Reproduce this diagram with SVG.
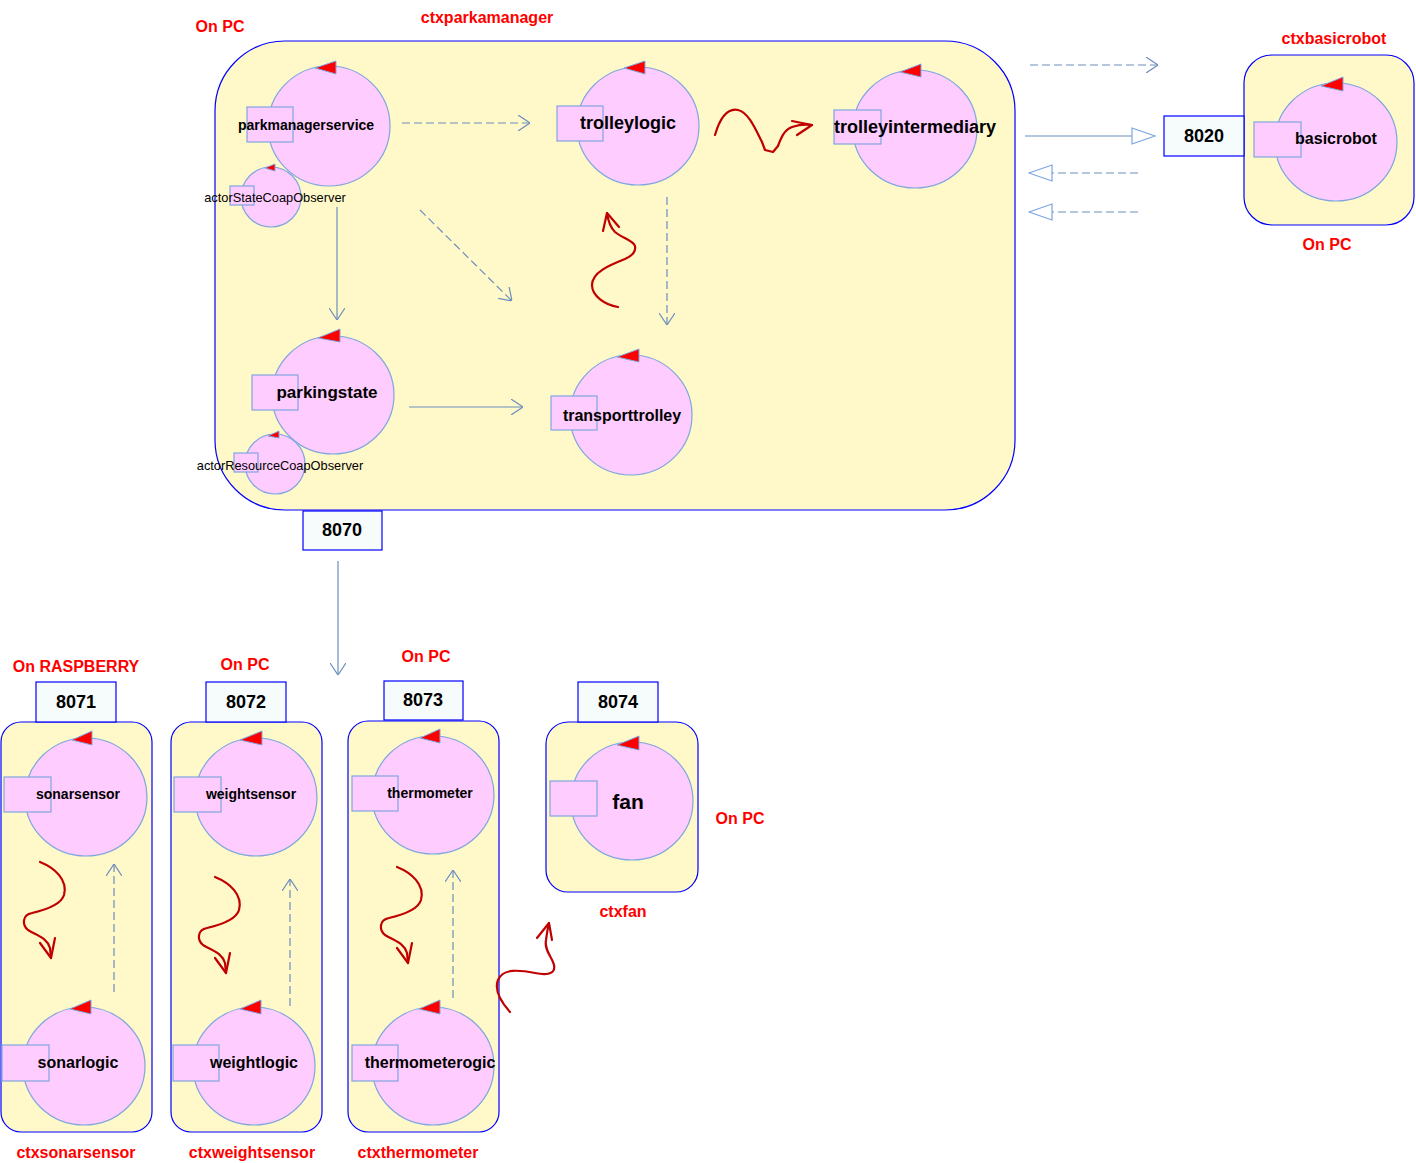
<svg xmlns="http://www.w3.org/2000/svg" width="1416" height="1163" viewBox="0 0 1416 1163">
<defs>
<style>
.ctx{fill:#FFF8C8;stroke:#0000FF;stroke-width:1.2}
.port{fill:#F6FBFB;stroke:#0000FF;stroke-width:1.2}
.act{fill:#FFCCFF;stroke:#7EA6E0;stroke-width:1.2}
.tri{fill:#FF0000;stroke:#7EA6E0;stroke-width:1}
.t{font-family:"Liberation Sans",Arial,sans-serif;font-weight:bold;fill:#000;text-anchor:middle}
.ts{font-family:"Liberation Sans",Arial,sans-serif;font-size:12.8px;fill:#000;text-anchor:middle}
.red{font-family:"Liberation Sans",Arial,sans-serif;font-weight:bold;font-size:16px;fill:#FF0000;text-anchor:middle}
.port-t{font-family:"Liberation Sans",Arial,sans-serif;font-weight:bold;font-size:18px;fill:#000;text-anchor:middle}
.ln{fill:none;stroke:#6C8EBF;stroke-width:1.2}
.dash{stroke-dasharray:8,4}
.sq{fill:none;stroke:#C00000;stroke-width:2.2;stroke-linecap:round;stroke-linejoin:round}
</style>
<marker id="open" viewBox="0 0 12 16" refX="12" refY="8" markerWidth="12" markerHeight="16" markerUnits="userSpaceOnUse" orient="auto">
<path d="M0,0 L12,8 L0,16" fill="none" stroke="#6C8EBF" stroke-width="1.2"/>
</marker>
<marker id="hollow" viewBox="0 0 25 18" refX="24" refY="9" markerWidth="25" markerHeight="18" markerUnits="userSpaceOnUse" orient="auto">
<path d="M1,1 L24,9 L1,17 Z" fill="#FFFFFF" stroke="#7EA6E0" stroke-width="1.2"/>
</marker>
</defs>
<rect width="1416" height="1163" fill="#FFFFFF"/>

<!-- contexts -->
<g id="ctxparkamanager">
<rect class="ctx" x="215" y="41" width="800" height="469" rx="70" ry="70"/>
<text class="red" x="220" y="32">On PC</text>
<text class="red" x="487" y="23">ctxparkamanager</text>
</g>
<g id="ctxbasicrobot">
<rect class="ctx" x="1244" y="55" width="170" height="170" rx="28" ry="28"/>
<text class="red" x="1334" y="44">ctxbasicrobot</text>
<text class="red" x="1327" y="250">On PC</text>
</g>
<g id="ctxsonarsensor">
<rect class="ctx" x="1" y="722" width="151" height="410" rx="20" ry="20"/>
<text class="red" x="76" y="672">On RASPBERRY</text>
<text class="red" x="76" y="1158">ctxsonarsensor</text>
</g>
<g id="ctxweightsensor">
<rect class="ctx" x="171" y="722" width="151" height="410" rx="20" ry="20"/>
<text class="red" x="245" y="670">On PC</text>
<text class="red" x="252" y="1158">ctxweightsensor</text>
</g>
<g id="ctxthermometer">
<rect class="ctx" x="348" y="721" width="151" height="411" rx="20" ry="20"/>
<text class="red" x="426" y="662">On PC</text>
<text class="red" x="418" y="1158">ctxthermometer</text>
</g>
<g id="ctxfan">
<rect class="ctx" x="546" y="722" width="152" height="170" rx="22" ry="22"/>
<text class="red" x="740" y="824">On PC</text>
<text class="red" x="623" y="917">ctxfan</text>
</g>

<!-- ports -->
<g id="port8070"><rect class="port" x="303" y="511" width="79" height="39"/><text class="port-t" x="342" y="536">8070</text></g>
<g id="port8020"><rect class="port" x="1164" y="116" width="80" height="40"/><text class="port-t" x="1204" y="142">8020</text></g>
<g id="port8071"><rect class="port" x="36" y="682" width="80" height="40"/><text class="port-t" x="76" y="708">8071</text></g>
<g id="port8072"><rect class="port" x="206" y="682" width="80" height="40"/><text class="port-t" x="246" y="708">8072</text></g>
<g id="port8073"><rect class="port" x="384" y="681" width="79" height="39"/><text class="port-t" x="423" y="706">8073</text></g>
<g id="port8074"><rect class="port" x="578" y="682" width="80" height="40"/><text class="port-t" x="618" y="708">8074</text></g>

<!-- actors -->
<g id="parkmanagerservice">
<ellipse class="act" cx="329" cy="126" rx="61" ry="60"/>
<polygon class="tri" points="315,68 336,61 336,74"/>
<rect class="act" x="247" y="107" width="46" height="35"/>
<text class="t" x="306" y="130" font-size="14">parkmanagerservice</text>
</g>
<g id="actorStateCoapObserver">
<ellipse class="act" cx="271" cy="197" rx="30" ry="30"/>
<polygon class="tri" points="265,168 275,164 275,171"/>
<rect class="act" x="230" y="186" width="24" height="19"/>
<text class="ts" x="275" y="202">actorStateCoapObserver</text>
</g>
<g id="trolleylogic">
<ellipse class="act" cx="638" cy="126" rx="61" ry="59"/>
<polygon class="tri" points="624,68 645,61 645,74"/>
<rect class="act" x="557" y="106" width="46" height="35"/>
<text class="t" x="628" y="129" font-size="18">trolleylogic</text>
</g>
<g id="trolleyintermediary">
<ellipse class="act" cx="915" cy="129" rx="62" ry="59"/>
<polygon class="tri" points="900,72 921,64 921,77"/>
<rect class="act" x="834" y="110" width="47" height="34"/>
<text class="t" x="915" y="133" font-size="18">trolleyintermediary</text>
</g>
<g id="parkingstate">
<ellipse class="act" cx="333" cy="395" rx="61" ry="59"/>
<polygon class="tri" points="318,338 340,329 340,342"/>
<rect class="act" x="252" y="375" width="46" height="35"/>
<text class="t" x="327" y="398" font-size="17">parkingstate</text>
</g>
<g id="actorResourceCoapObserver">
<ellipse class="act" cx="275" cy="464" rx="30" ry="30"/>
<polygon class="tri" points="268,436 279,431 279,438"/>
<rect class="act" x="234" y="453" width="24" height="19"/>
<text class="ts" x="280" y="470">actorResourceCoapObserver</text>
</g>
<g id="transporttrolley">
<ellipse class="act" cx="631" cy="415" rx="61" ry="60"/>
<polygon class="tri" points="617,357 639,349 639,362"/>
<rect class="act" x="551" y="396" width="46" height="34"/>
<text class="t" x="622" y="421" font-size="16">transporttrolley</text>
</g>
<g id="basicrobot">
<ellipse class="act" cx="1336" cy="142" rx="61" ry="59"/>
<polygon class="tri" points="1321,86 1343,77 1343,91"/>
<rect class="act" x="1254" y="122" width="47" height="35"/>
<text class="t" x="1336" y="144" font-size="16">basicrobot</text>
</g>
<g id="sonarsensor">
<ellipse class="act" cx="86" cy="797" rx="61" ry="59"/>
<polygon class="tri" points="72,740 92,731 92,745"/>
<rect class="act" x="4" y="777" width="47" height="35"/>
<text class="t" x="78" y="799" font-size="14">sonarsensor</text>
</g>
<g id="sonarlogic">
<ellipse class="act" cx="84" cy="1066" rx="61" ry="59"/>
<polygon class="tri" points="70,1009 91,1000 91,1014"/>
<rect class="act" x="2" y="1045" width="47" height="36"/>
<text class="t" x="78" y="1068" font-size="16">sonarlogic</text>
</g>
<g id="weightsensor">
<ellipse class="act" cx="256" cy="797" rx="61" ry="59"/>
<polygon class="tri" points="240,740 262,731 262,745"/>
<rect class="act" x="174" y="777" width="47" height="35"/>
<text class="t" x="251" y="799" font-size="14">weightsensor</text>
</g>
<g id="weightlogic">
<ellipse class="act" cx="254" cy="1066" rx="61" ry="59"/>
<polygon class="tri" points="240,1009 261,1000 261,1014"/>
<rect class="act" x="173" y="1045" width="46" height="36"/>
<text class="t" x="254" y="1068" font-size="16">weightlogic</text>
</g>
<g id="thermometer">
<ellipse class="act" cx="433" cy="795" rx="61" ry="59"/>
<polygon class="tri" points="420,738 440,729 440,743"/>
<rect class="act" x="352" y="776" width="46" height="35"/>
<text class="t" x="430" y="798" font-size="14">thermometer</text>
</g>
<g id="thermometerogic">
<ellipse class="act" cx="433" cy="1066" rx="61" ry="59"/>
<polygon class="tri" points="419,1009 440,1000 440,1014"/>
<rect class="act" x="352" y="1045" width="46" height="36"/>
<text class="t" x="430" y="1068" font-size="16">thermometerogic</text>
</g>
<g id="fan">
<ellipse class="act" cx="632" cy="801" rx="61" ry="59"/>
<polygon class="tri" points="617,745 639,736 639,750"/>
<rect class="act" x="550" y="781" width="47" height="35"/>
<text class="t" x="628" y="809" font-size="21">fan</text>
</g>

<!-- connectors -->
<g id="connectors">
<path class="ln dash" d="M402,123 L530,123" marker-end="url(#open)"/>
<path class="ln" d="M337,207 L337,320" marker-end="url(#open)"/>
<path class="ln dash" d="M420,210 L512,301" marker-end="url(#open)"/>
<path class="ln dash" d="M667,197 L667,325" marker-end="url(#open)"/>
<path class="ln" d="M409,407 L523,407" marker-end="url(#open)"/>
<path class="ln" d="M338,561 L338,675" marker-end="url(#open)"/>
<path class="ln dash" d="M1030,65 L1158,65" marker-end="url(#open)"/>
<path class="ln" stroke="#7EA6E0" d="M1025,136 L1155,136" marker-end="url(#hollow)"/>
<path class="ln dash" d="M1138,173 L1029,173" marker-end="url(#hollow)"/>
<path class="ln dash" d="M1138,212 L1029,212" marker-end="url(#hollow)"/>
<path class="ln dash" d="M114,992 L114,864" marker-end="url(#open)"/>
<path class="ln dash" d="M290,1006 L290,879" marker-end="url(#open)"/>
<path class="ln dash" d="M453,998 L453,870" marker-end="url(#open)"/>

<path class="sq" d="M715,135 C720,118 728,108 738,110 C748,112 755,128 762,142 L765,150 L773,152 L778,146 C781,138 784,130 792,127 C798,125 805,124 812,125"/>
<path class="sq" d="M792,121 L812,125 L797,135"/>
<path class="sq" d="M618,307 C605,305 592,296 592,285 C592,272 610,265 625,259 C632,256 636,252 635,246 C633,240 622,238 615,232 C610,227 608,220 607,213"/>
<path class="sq" d="M603,231 L607,213 L619,227"/>
<path class="sq" d="M40,862 C55,868 68,880 64,895 C61,905 45,910 32,913 C22,915 22,925 28,930 C38,936 47,938 50,948 L51,958"/>
<path class="sq" d="M40,943 L51,958 L55,938"/>
<path class="sq" transform="translate(175,15)" d="M40,862 C55,868 68,880 64,895 C61,905 45,910 32,913 C22,915 22,925 28,930 C38,936 47,938 50,948 L51,958"/>
<path class="sq" transform="translate(175,15)" d="M40,943 L51,958 L55,938"/>
<path class="sq" transform="translate(357,5)" d="M40,862 C55,868 68,880 64,895 C61,905 45,910 32,913 C22,915 22,925 28,930 C38,936 47,938 50,948 L51,958"/>
<path class="sq" transform="translate(357,5)" d="M40,943 L51,958 L55,938"/>
<path class="sq" d="M510,1012 C502,1003 494,990 498,980 C503,968 520,970 535,973 C545,975 556,975 554,965 C552,957 544,950 546,940 C547,932 548,927 549,923"/>
<path class="sq" d="M537,938 L549,923 L552,940"/>
</g>
</svg>
